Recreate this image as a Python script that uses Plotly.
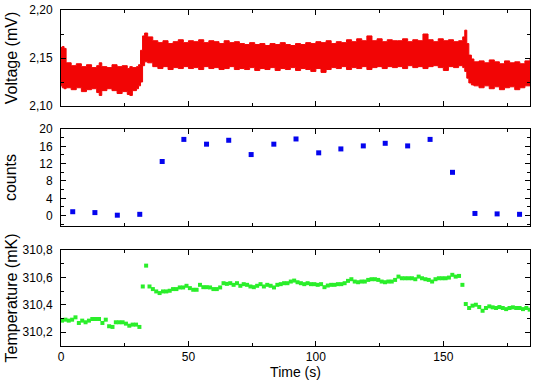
import plotly.graph_objects as go

# Voltage: noise band read as lower / upper envelope (mV)
volt_time = [0, 0.5, 1.2, 2, 4, 6, 8, 10, 12, 14, 15, 16, 18, 20, 22, 24, 26, 27, 28, 29.6,
             30.4, 31.2, 32.0, 32.8, 34, 36,
             38, 40, 42, 44, 46, 48, 50,
             52, 54, 56, 58, 60, 62, 64, 66, 68, 70,
             72, 74, 76, 78, 80, 82, 84, 86, 88, 90, 92, 94, 96, 98, 100,
             102, 104, 106, 108, 110, 112, 114, 116, 118, 120, 122, 124, 126, 128, 130,
             132, 134, 136, 138, 140, 142, 144, 146, 148, 150, 152, 154, 156,
             157.6, 158.4, 159.2, 160.0, 161, 162,
             164, 166, 168, 170, 172, 174, 176, 178, 180, 182, 184]
volt_high = [2.161, 2.162, 2.160, 2.145, 2.142, 2.144, 2.141, 2.143, 2.140, 2.142, 2.145, 2.141, 2.140, 2.143, 2.141, 2.142, 2.139, 2.141, 2.140, 2.141,
             2.143, 2.158, 2.173, 2.176, 2.172, 2.168,
             2.166, 2.168, 2.165, 2.167, 2.169, 2.166, 2.168,
             2.167, 2.169, 2.166, 2.168, 2.167, 2.165, 2.168, 2.166, 2.167, 2.165,
             2.164, 2.166, 2.164, 2.165, 2.163, 2.165, 2.164, 2.166, 2.164, 2.163, 2.165, 2.164, 2.166, 2.165, 2.167,
             2.166, 2.168, 2.165, 2.167, 2.166, 2.169, 2.167, 2.170, 2.168, 2.173, 2.168, 2.170, 2.167, 2.169, 2.168,
             2.168, 2.170, 2.167, 2.169, 2.168, 2.175, 2.169, 2.167, 2.170, 2.168, 2.169, 2.167, 2.168,
             2.172, 2.179, 2.165, 2.153, 2.149, 2.146,
             2.147, 2.145, 2.148, 2.146, 2.144, 2.147, 2.145, 2.146, 2.144, 2.147, 2.149]
volt_low = [2.121, 2.119, 2.118, 2.119, 2.117, 2.119, 2.115, 2.117, 2.118, 2.114, 2.111, 2.116, 2.118, 2.116, 2.113, 2.115, 2.112, 2.111, 2.116, 2.118,
            2.121, 2.125, 2.142, 2.146, 2.145, 2.141,
            2.139, 2.141, 2.138, 2.140, 2.139, 2.141, 2.139,
            2.140, 2.138, 2.141, 2.139, 2.140, 2.138, 2.139, 2.141, 2.138, 2.139,
            2.138, 2.140, 2.137, 2.139, 2.138, 2.140, 2.137, 2.139, 2.138, 2.140, 2.137, 2.139, 2.138, 2.136, 2.139,
            2.135, 2.138, 2.140, 2.139, 2.141, 2.138, 2.140, 2.139, 2.141, 2.138, 2.140, 2.141, 2.139, 2.141, 2.140,
            2.141, 2.139, 2.142, 2.140, 2.141, 2.139, 2.141, 2.142, 2.140, 2.137, 2.141, 2.140, 2.142,
            2.140, 2.136, 2.129, 2.124, 2.122, 2.121,
            2.119, 2.121, 2.118, 2.120, 2.117, 2.119, 2.120, 2.117, 2.119, 2.121, 2.122]

# Counts
count_time = [4.6, 13.3, 22.1, 30.9, 39.7, 48.2, 57.1, 65.8, 74.6, 83.5, 92.2,
              101.1, 109.8, 118.6, 127.2, 136.0, 144.8, 153.6, 162.4, 171.1, 179.9]
counts = [0.9, 0.7, 0.1, 0.3, 12.5, 17.6, 16.5, 17.4, 14.1, 16.5, 17.7,
          14.5, 15.4, 16.1, 16.7, 16.1, 17.6, 10.0, 0.5, 0.4, 0.3]

# Temperature (mK), sampled every 1.32 s starting at 0.4 s
temp_start = 0.4
temp_period = 1.32
temp_mk = [
    310.285, 310.292, 310.285, 310.292, 310.309, 310.268, 310.285, 310.273, 310.285, 310.297, 310.297, 310.297,
    310.268, 310.292, 310.244, 310.239, 310.273, 310.273, 310.273, 310.263, 310.248, 310.256, 310.256, 310.239,
    310.534, 310.686, 310.534, 310.515, 310.498, 310.486, 310.498, 310.498, 310.503, 310.515, 310.515,
    310.527, 310.527, 310.539, 310.522, 310.510, 310.510, 310.546, 310.529, 310.529, 310.527, 310.515, 310.515,
    310.527, 310.558, 310.553, 310.558, 310.546, 310.558, 310.539, 310.551, 310.546, 310.534, 310.529, 310.539,
    310.551, 310.534, 310.546, 310.539, 310.527, 310.546, 310.551, 310.558, 310.558, 310.570, 310.577,
    310.565, 310.558, 310.551, 310.558, 310.551, 310.551, 310.546, 310.551, 310.529, 310.541, 310.546, 310.546,
    310.551, 310.551, 310.558, 310.575, 310.587, 310.570, 310.565, 310.570, 310.570, 310.582, 310.587, 310.587,
    310.582, 310.570, 310.565, 310.570, 310.570, 310.582, 310.606, 310.594, 310.594, 310.594,
    310.594, 310.587, 310.606, 310.594, 310.587, 310.582, 310.570, 310.587, 310.594, 310.594, 310.594, 310.599,
    310.619, 310.606, 310.611,
    310.546,
    310.406, 310.377, 310.394, 310.401, 310.384, 310.357, 310.377, 310.389, 310.382, 310.377, 310.384, 310.377,
    310.369, 310.377, 310.382, 310.377, 310.377, 310.369, 310.377, 310.365,
]
temp_time = [round(temp_start + temp_period * i, 2) for i in range(len(temp_mk))]

RED = "#f20505"
BLUE = "#0505ee"
GREEN = "#2aee2a"
FONT = "Arial, Liberation Sans, sans-serif"

fig = go.Figure()

# banda tensione (contorni a gradini)
fig.add_trace(go.Scatter(x=volt_time, y=volt_low, mode="lines", line_shape="hv",
                         line=dict(color=RED, width=1), xaxis="x", yaxis="y",
                         hoverinfo="skip", showlegend=False))
fig.add_trace(go.Scatter(x=volt_time, y=volt_high, mode="lines", line_shape="hv",
                         fill="tonexty", fillcolor=RED, line=dict(color=RED, width=1),
                         xaxis="x", yaxis="y", showlegend=False))

fig.add_trace(go.Scatter(x=count_time, y=counts, mode="markers",
                         marker=dict(symbol="square", size=5, color=BLUE),
                         xaxis="x2", yaxis="y2", showlegend=False))

fig.add_trace(go.Scatter(x=temp_time, y=temp_mk, mode="markers",
                         marker=dict(symbol="square", size=4, color=GREEN),
                         xaxis="x3", yaxis="y3", showlegend=False))

common = dict(showline=True, linecolor="black", linewidth=1, mirror="allticks",
              ticks="inside", ticklen=5, tickcolor="black", showgrid=False,
              zeroline=False, automargin=False,
              tickfont=dict(family=FONT, size=12, color="black"))

xcommon = dict(common, range=[0, 184], tick0=0, dtick=50,
               minor=dict(ticks="inside", ticklen=3, dtick=25, tickcolor="black"))

fig.update_layout(
    width=539, height=382,
    margin=dict(l=61, r=9, t=10, b=36),
    paper_bgcolor="white", plot_bgcolor="white",
    separators=", ",
    font=dict(family=FONT, color="black"),
    xaxis=dict(xcommon, domain=[0, 1], anchor="y", showticklabels=False),
    xaxis2=dict(xcommon, domain=[0, 1], anchor="y2", showticklabels=False),
    xaxis3=dict(xcommon, domain=[0, 1], anchor="y3",
                title=dict(text="Time (s)", font=dict(size=14), standoff=0)),
    yaxis=dict(common, domain=[0.7143, 1], anchor="x", range=[2.10, 2.20],
               tick0=2.10, dtick=0.05, tickformat=".2f", ticklabelstandoff=5,
               minor=dict(ticks="inside", ticklen=3, dtick=0.025, tickcolor="black"),
               title=dict(text="Voltage (mV)", font=dict(size=16), standoff=7)),
    yaxis2=dict(common, domain=[0.3571, 0.6458], anchor="x2", range=[-2.4, 20],
                tick0=0, dtick=4, ticklabelstandoff=5,
                minor=dict(ticks="inside", ticklen=3, dtick=2, tickcolor="black"),
                title=dict(text="counts", font=dict(size=16), standoff=18)),
    yaxis3=dict(common, domain=[0, 0.2857], anchor="x3", range=[310.1, 310.8],
                tick0=310.2, dtick=0.2, tickformat=".1f", ticklabelstandoff=5,
                minor=dict(ticks="inside", ticklen=3, dtick=0.1, tickcolor="black"),
                title=dict(text="Temperature (mK)", font=dict(size=16), standoff=0)),
)

# la pagina ha un margine di default di 8px: lo azzero
fig.write_html("out.html", config={"displayModeBar": False},
               post_script="document.body.style.margin = '0';")
